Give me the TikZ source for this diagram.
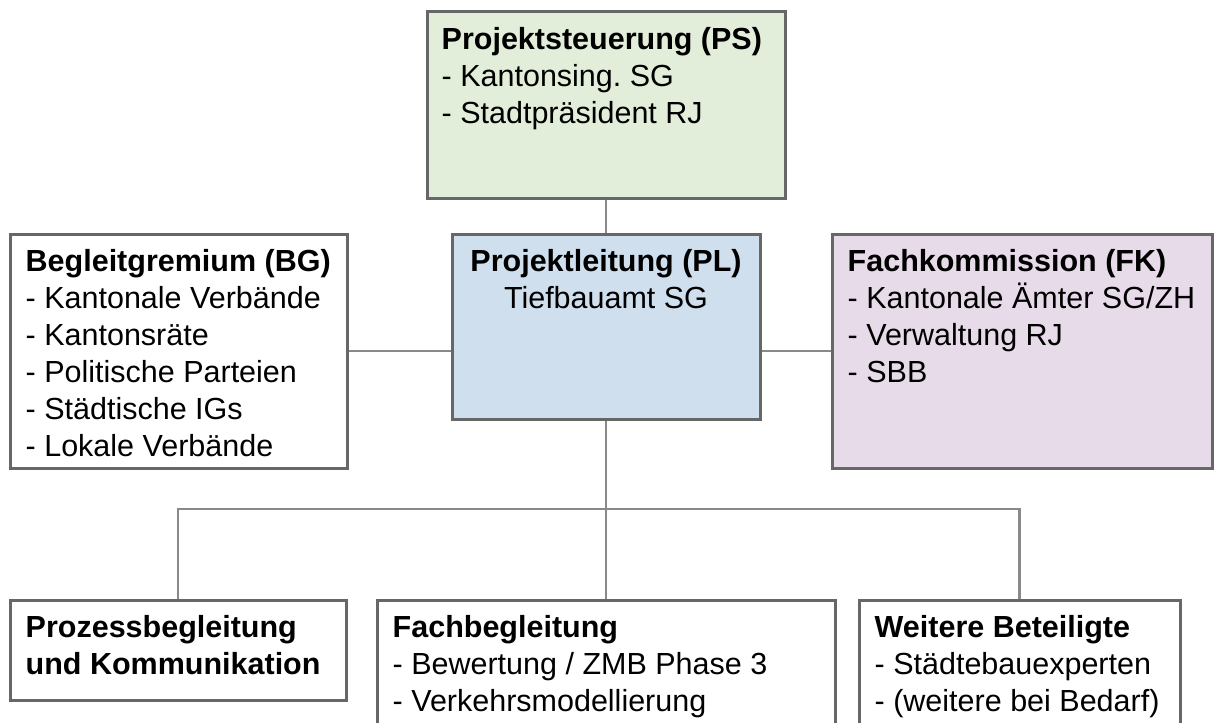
\documentclass[tikz,border=0pt]{standalone}
\usepackage{fontspec}
\setmainfont{Liberation Sans}
\frenchspacing
\definecolor{psgreen}{HTML}{E2EEDA}
\definecolor{plblue}{HTML}{D0DFEE}
\definecolor{fkpink}{HTML}{E8DBE9}
\definecolor{rimgray}{HTML}{676767}
\definecolor{linkgray}{HTML}{898989}

\begin{document}
\begin{tikzpicture}
  [x=1pt,y=-1pt,
   every node/.style={font=\fontsize{30.5}{37}\selectfont},
   box/.style={draw=rimgray,line width=3pt,inner sep=0pt},
   txt/.style={inner sep=0pt,anchor=north west,align=left},
   link/.style={draw=linkgray,line width=2.5pt}]
  \useasboundingbox (0,0) rectangle (1214,722);
  % top and middle row
  \node[box,fill=psgreen,minimum width=358pt,minimum height=186pt] (ps) at (606,105) {};
  \node[box,fill=plblue,minimum width=308pt,minimum height=185pt] (pl) at (606,326.5) {};
  \node[box,fill=white,minimum width=337pt,minimum height=234pt] (bg) at (178.5,351) {};
  \node[box,fill=fkpink,minimum width=380pt,minimum height=234pt] (fk) at (1022,351) {};
  % bottom row
  \node[box,fill=white,minimum width=336pt,minimum height=100pt] (pk) at (178,650) {};
  \node[box,fill=white,minimum width=458pt,minimum height=160pt] (fb) at (606,680) {};
  \node[box,fill=white,minimum width=321pt,minimum height=160pt] (wb) at (1019.5,680) {};
  \coordinate (bus) at (606,509);
  % connectors
  \draw[link] (ps.south) -- (pl.north);
  \draw[link] (bg.east) -- (bg.east -| pl.west);
  \draw[link] (fk.west) -- (fk.west -| pl.east);
  \draw[link] (pl.south) -- (bus);
  \foreach \kid in {pk,fb,wb}
    \draw[link] (bus) -| (\kid.north);
  % texts
  \node[txt] (pst) at ([shift={(16,17)}]ps.north west)
    {\textbf{Projektsteuerung (PS)}\\- Kantonsing. SG\\- Stadtpräsident RJ};
  \node[inner sep=0pt,anchor=north,align=center] (plt) at ([shift={(0,17)}]pl.north)
    {\textbf{Projektleitung (PL)}\\Tiefbauamt SG};
  \node[txt] (bgt) at ([shift={(17,17)}]bg.north west)
    {\textbf{Begleitgremium (BG)}\\- Kantonale Verbände\\- Kantonsräte\\- Politische Parteien\\- Städtische IGs\\- Lokale Verbände};
  \node[txt] (fkt) at ([shift={(17,17)}]fk.north west)
    {\textbf{Fachkommission (FK)}\\- Kantonale Ämter SG/ZH\\- Verwaltung RJ\\- SBB};
  \node[txt] (pkt) at ([shift={(17,17)}]pk.north west)
    {\textbf{Prozessbegleitung}\\\textbf{und Kommunikation}};
  \node[txt] (fbt) at ([shift={(17,17)}]fb.north west)
    {\textbf{Fachbegleitung}\\- Bewertung / ZMB Phase 3\\- Verkehrsmodellierung};
  \node[txt] (wbt) at ([shift={(17,17)}]wb.north west)
    {\textbf{Weitere Beteiligte}\\- Städtebauexperten\\- (weitere bei Bedarf)};
\end{tikzpicture}
\end{document}
